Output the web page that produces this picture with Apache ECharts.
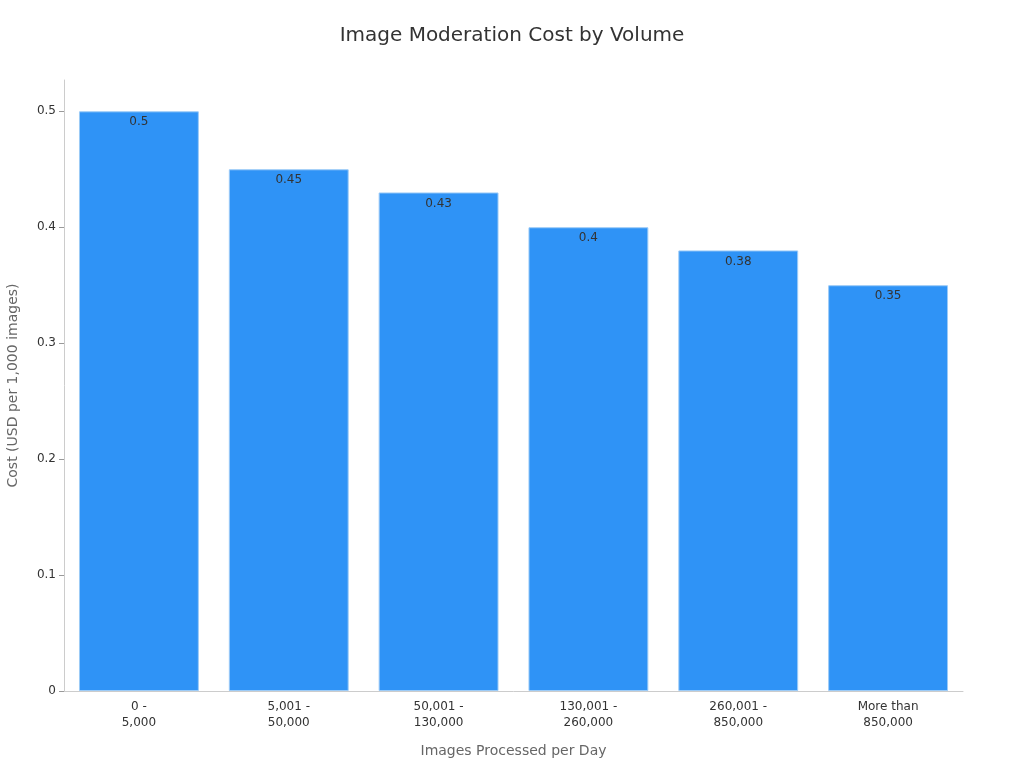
<!DOCTYPE html>
<html>
<head>
<meta charset="utf-8">
<title>Image Moderation Cost by Volume</title>
<script src="https://cdn.jsdelivr.net/npm/echarts@6/dist/echarts.min.js"></script>
<style>
  html, body { margin: 0; padding: 0; background: #fff; }
  #main { width: 1024px; height: 768px; }
</style>
</head>
<body>
<div id="main"></div>
<script>
// categories and values
var tiers = ['0 -\n5,000', '5,001 -\n50,000', '50,001 -\n130,000', '130,001 -\n260,000', '260,001 -\n850,000', 'More than\n850,000'];
var costs = [0.5, 0.45, 0.43, 0.4, 0.38, 0.35];

var myChart = echarts.init(document.getElementById('main'));

var option = {
    textStyle: { fontFamily: 'DejaVu Sans' },
    title: {
        text: 'Image Moderation Cost by Volume',
        left: 'center',
        top: 21,
        textStyle: { fontSize: 20, fontWeight: 'normal', color: '#333', fontFamily: 'DejaVu Sans' }
    },
    grid: {
        left: 64,
        right: 61,
        top: 80,
        bottom: 77,
        containLabel: false,
        outerBoundsMode: 'none'
    },
    xAxis: {
        type: 'category',
        data: tiers,
        name: 'Images Processed per Day',
        nameLocation: 'middle',
        nameGap: 53,
        nameTextStyle: { fontSize: 14, color: '#666' },
        axisLine: { lineStyle: { color: '#ccc' } },
        axisTick: { alignWithLabel: true, lineStyle: { color: '#999' } },
        axisLabel: { fontSize: 12, color: '#333', lineHeight: 16 }
    },
    yAxis: {
        type: 'value',
        min: 0,
        max: 0.527,
        interval: 0.1,
        name: 'Cost (USD per 1,000 images)',
        nameLocation: 'middle',
        nameGap: 44,
        nameTextStyle: { fontSize: 14, color: '#666' },
        axisLine: { show: true, lineStyle: { color: '#ccc' } },
        axisTick: { show: true, lineStyle: { color: '#999' } },
        axisLabel: { fontSize: 12, color: '#333', showMaxLabel: false },
        splitLine: { show: false }
    },
    series: [{
        name: 'Cost',
        type: 'bar',
        barCategoryGap: '20%',
        data: costs,
        itemStyle: {
            color: '#2f93f6',
            borderColor: '#9ccbf7',
            borderWidth: 1
        },
        label: {
            show: true,
            position: 'insideTop',
            fontSize: 12,
            color: '#333'
        }
    }]
};

myChart.setOption(option);
</script>
</body>
</html>
